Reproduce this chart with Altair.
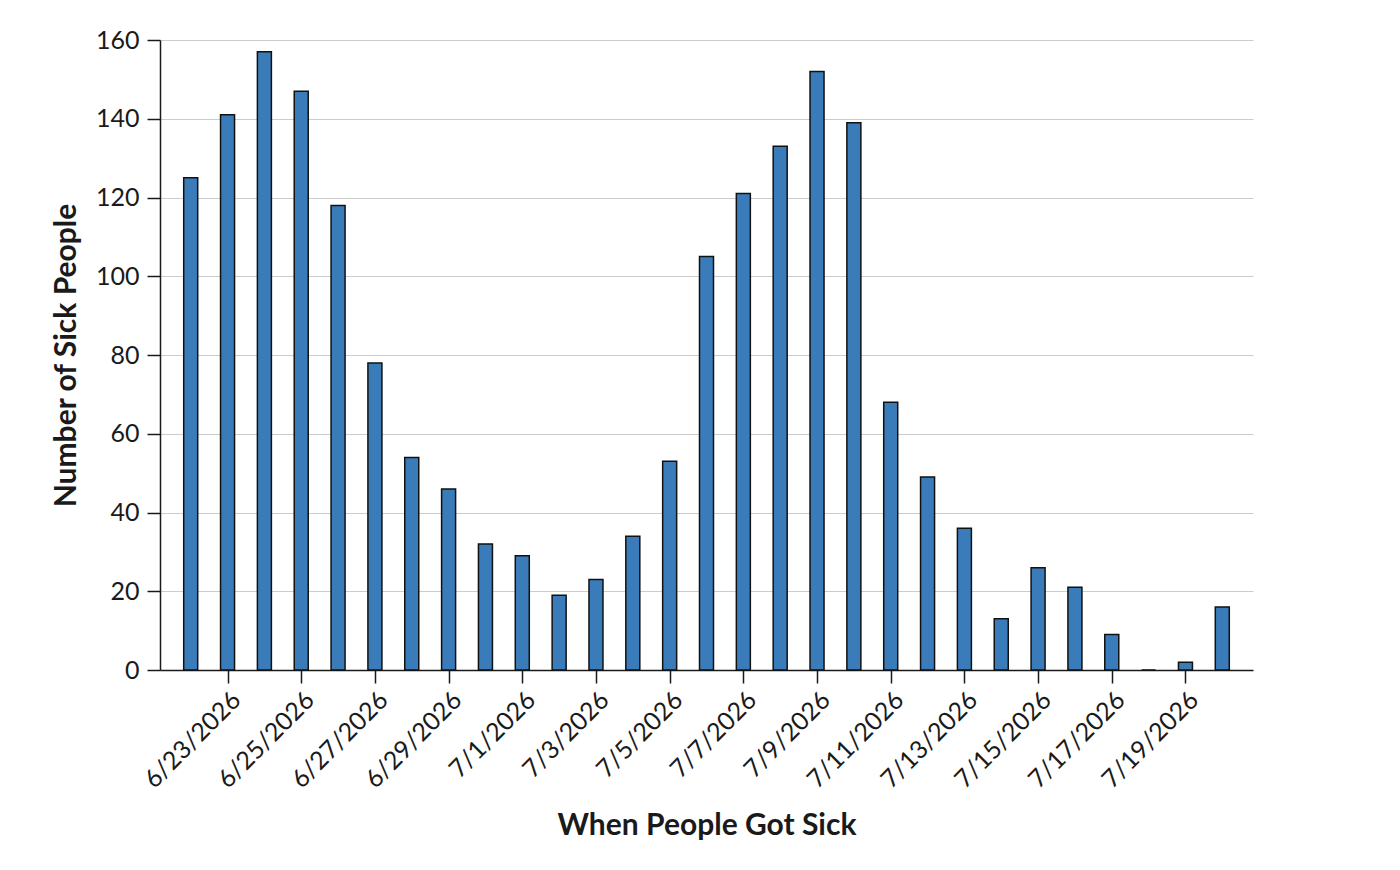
import altair as alt
import pandas as pd

dates = [
    "2026-06-22", "2026-06-23", "2026-06-24", "2026-06-25", "2026-06-26",
    "2026-06-27", "2026-06-28", "2026-06-29", "2026-06-30", "2026-07-01",
    "2026-07-02", "2026-07-03", "2026-07-04", "2026-07-05", "2026-07-06",
    "2026-07-07", "2026-07-08", "2026-07-09", "2026-07-10", "2026-07-11",
    "2026-07-12", "2026-07-13", "2026-07-14", "2026-07-15", "2026-07-16",
    "2026-07-17", "2026-07-18", "2026-07-19", "2026-07-20",
]
sick = [125, 141, 157, 147, 118, 78, 54, 46, 32, 29, 19, 23, 34, 53, 105,
        121, 133, 152, 139, 68, 49, 36, 13, 26, 21, 9, 0, 2, 16]

tick_days = [(6, 23), (6, 25), (6, 27), (6, 29), (7, 1), (7, 3), (7, 5),
             (7, 7), (7, 9), (7, 11), (7, 13), (7, 15), (7, 17), (7, 19)]

df = pd.DataFrame({"date": [d + "T00:00:00" for d in dates], "sick": sick})

FONT = "Lato"

chart = alt.Chart(df).mark_bar(
    size=14, color="#3a7cba", stroke="#111111", strokeWidth=1.5
).encode(
    x=alt.X(
        "date:T",
        title="When People Got Sick",
        scale=alt.Scale(nice=False, padding=0, domain=[
            alt.DateTime(year=2026, month=6, date=21, hours=4),
            alt.DateTime(year=2026, month=7, date=20, hours=20),
        ]),
        axis=alt.Axis(
            values=[alt.DateTime(year=2026, month=m, date=d) for m, d in tick_days],
            format="%-m/%-d/%Y",
            labelAngle=-45,
            labelOverlap=False,
            grid=False,
            tickSize=13,
            labelPadding=4,
            titlePadding=18,
        ),
    ),
    y=alt.Y(
        "sick:Q",
        title="Number of Sick People",
        scale=alt.Scale(domain=[0, 160]),
        axis=alt.Axis(values=[0, 20, 40, 60, 80, 100, 120, 140, 160],
                      tickSize=13, labelPadding=8, titlePadding=14,
                      gridColor="#cccccc"),
    ),
).properties(
    width=1093, height=630,
    autosize=alt.AutoSizeParams(type="none"),
    padding={"left": 152, "top": 32, "right": 120, "bottom": 180},
).configure_axis(
    labelFont=FONT, titleFont=FONT, labelFontSize=25, titleFontSize=30,
    labelColor="#1a1a1a", titleColor="#1a1a1a", domainColor="#1a1a1a",
    tickColor="#1a1a1a", domainWidth=1.5, tickWidth=1.5, titleFontWeight="bold",
).configure_view(stroke=None)

chart.save("out.html", embed_options={"renderer": "svg", "actions": False})
